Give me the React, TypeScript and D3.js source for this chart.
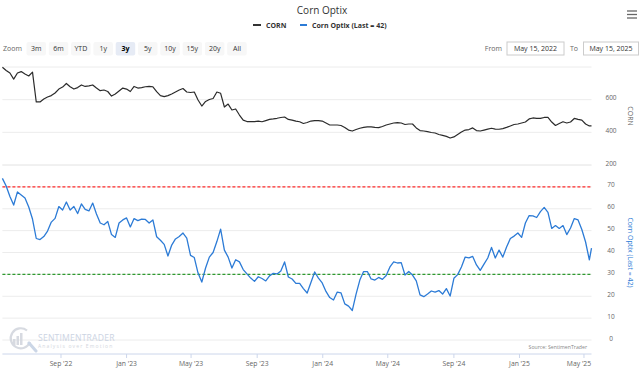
import * as d3 from "d3"

const W = 644
const H = 369
const FONT = "'Open Sans', sans-serif"

// weekly closes starting May 15, 2022; last entry is May 15, 2025
const START = new Date(2022, 4, 15)
const END = new Date(2025, 4, 15)

const cornValues = [
  798, 779, 763, 726, 763, 772, 757, 745, 769, 586,
  586, 604, 616, 625, 641, 665, 677, 699, 679, 665,
  674, 690, 681, 684, 690, 671, 655, 659, 650, 622,
  635, 653, 671, 665, 650, 681, 671, 674, 679, 681,
  679, 649, 625, 619, 625, 635, 647, 659, 668, 647,
  644, 647, 598, 561, 589, 601, 607, 647, 639, 555,
  573, 537, 543, 506, 475, 466, 466, 466, 469, 465,
  472, 479, 482, 486, 491, 494, 479, 475, 469, 465,
  454, 460, 469, 472, 472, 469, 457, 445, 445, 445,
  442, 430, 414, 408, 417, 425, 430, 433, 433, 430,
  429, 436, 445, 451, 457, 460, 457, 448, 451, 451,
  427, 411, 408, 404, 399, 396, 387, 381, 375, 365,
  372, 387, 402, 414, 417, 427, 411, 408, 414, 420,
  425, 420, 419, 423, 430, 439, 448, 451, 457, 463,
  482, 488, 486, 485, 491, 491, 463, 442, 454, 465,
  457, 463, 485, 479, 475, 451, 439, 439,
]

const optixValues = [
  73.9, 70.4, 65.6, 61.7, 67.7, 66.3, 64.9, 60.8, 55.3, 46.4,
  45.9, 47.3, 49.8, 53.9, 55.6, 61.0, 59.4, 63.1, 59.4, 61.0,
  57.8, 62.2, 59.7, 59.0, 62.6, 57.6, 53.5, 52.7, 54.2, 48.2,
  46.9, 53.5, 54.9, 55.8, 51.7, 55.5, 54.6, 55.3, 55.1, 53.5,
  54.9, 47.2, 45.6, 43.7, 38.4, 43.4, 46.2, 47.3, 48.9, 46.6,
  38.7, 37.7, 30.6, 26.5, 32.9, 37.9, 40.0, 45.0, 50.7, 41.1,
  37.9, 32.9, 36.7, 35.7, 32.2, 30.2, 28.3, 26.8, 28.9, 28.1,
  27.0, 29.3, 30.5, 30.2, 31.5, 35.7, 28.8, 27.9, 25.9, 25.9,
  23.5, 21.5, 26.3, 31.1, 28.3, 26.1, 22.2, 19.4, 18.3, 21.9,
  21.5, 16.5, 15.5, 13.5, 21.0, 27.4, 31.3, 31.3, 27.9, 27.4,
  28.6, 27.7, 29.5, 33.4, 35.7, 35.2, 35.4, 29.7, 31.3, 29.7,
  27.0, 20.6, 19.8, 21.0, 22.4, 21.9, 22.6, 21.0, 23.5, 20.1,
  28.2, 29.9, 33.4, 37.9, 37.5, 38.2, 34.3, 31.8, 34.7, 37.5,
  42.3, 37.5, 41.1, 37.9, 42.5, 46.4, 47.5, 48.9, 46.9, 53.5,
  56.9, 56.7, 56.0, 58.7, 60.6, 58.3, 51.0, 52.3, 51.0, 52.3,
  48.2, 51.2, 55.5, 54.9, 50.5, 44.8, 36.6, 42,
]

const UPPER_BAND = 70
const LOWER_BAND = 30
const cornTicks = [200, 400, 600, 800]
const optixTicks = [0, 10, 20, 30, 40, 50, 60, 70, 80]
const zoomButtons = ["3m", "6m", "YTD", "1y", "3y", "5y", "10y", "15y", "20y", "All"]
const SELECTED = "3y"

type Pt = { date: Date; value: number }

function toSeries(values: number[]): Pt[] {
  return values.map((value, i) => ({
    date: i === values.length - 1 ? END : d3.timeDay.offset(START, i * 7),
    value,
  }))
}

export default function App() {
  const x = d3.scaleTime().domain([START, END]).range([2.4, 591.5])
  const yTop = d3.scaleLinear().domain([200, 800]).range([165, 67])
  const yBot = d3.scaleLinear().domain([0, 80]).range([340, 165])

  const corn = toSeries(cornValues)
  const optix = toSeries(optixValues)

  const cornLine = d3
    .line<Pt>()
    .x((d) => x(d.date))
    .y((d) => yTop(d.value))
  const optixLine = d3
    .line<Pt>()
    .x((d) => x(d.date))
    .y((d) => yBot(d.value))

  const xTicks = x.ticks(d3.timeMonth.every(4)!)
  const fmt = d3.timeFormat("%b '%y")
  const [x0, x1] = x.range()

  return (
    <svg
      width={W}
      height={H}
      style={{ position: "absolute", left: 0, top: 0, fontFamily: FONT }}
    >
      <rect width={W} height={H} fill="#fff" />

      {/* title + legend */}
      <text x={322} y={13.5} textAnchor="middle" fontSize={10} fill="#333">
        Corn Optix
      </text>
      <line x1={253} x2={261} y1={25} y2={25} stroke="#333" strokeWidth={2} />
      <text x={266} y={27.5} fontSize={7} fontWeight={700} fill="#333">
        CORN
      </text>
      <line x1={300} x2={307} y1={25} y2={25} stroke="#2c7bd6" strokeWidth={2} />
      <text x={312} y={27.5} fontSize={7} fontWeight={700} fill="#333">
        Corn Optix (Last = 42)
      </text>
      <g stroke="#666" strokeWidth={1.3}>
        {[11, 14.5, 18].map((y) => (
          <line key={y} x1={627} x2={637} y1={y} y2={y} />
        ))}
      </g>

      {/* range selector */}
      <text x={3} y={51} fontSize={7} fill="#666">
        Zoom
      </text>
      {zoomButtons.map((b, i) => {
        const bx = 26.5 + i * 22.3
        const sel = b === SELECTED
        return (
          <g key={b}>
            <rect x={bx} y={42} width={19.5} height={13.5} rx={2} fill={sel ? "#e6ebf5" : "#f7f7f7"} />
            <text
              x={bx + 9.75}
              y={51.3}
              textAnchor="middle"
              fontSize={7}
              fontWeight={sel ? 700 : 400}
              fill={sel ? "#000" : "#333"}
            >
              {b}
            </text>
          </g>
        )
      })}
      <text x={502} y={51.3} textAnchor="end" fontSize={7} fill="#666">
        From
      </text>
      <rect x={507} y={42} width={57} height={13} fill="#fff" stroke="#ccc" />
      <text x={535.5} y={51.3} textAnchor="middle" fontSize={7} fill="#333">
        May 15, 2022
      </text>
      <text x={578} y={51.3} textAnchor="end" fontSize={7} fill="#666">
        To
      </text>
      <rect x={583.5} y={42} width={55} height={13} fill="#fff" stroke="#ccc" />
      <text x={611} y={51.3} textAnchor="middle" fontSize={7} fill="#333">
        May 15, 2025
      </text>

      {/* grid */}
      <g stroke="#ececec" strokeWidth={1}>
        {cornTicks.map((t) => (
          <line key={"c" + t} x1={x0} x2={x1} y1={yTop(t)} y2={yTop(t)} />
        ))}
        {optixTicks.map((t) => (
          <line key={"o" + t} x1={x0} x2={x1} y1={yBot(t)} y2={yBot(t)} />
        ))}
      </g>

      {/* watermark */}
      <g opacity={0.9}>
        <path d="M 27 330.5 A 10 10 0 1 0 30 342" fill="none" stroke="#d3d7de" strokeWidth={2.2} />
        <rect x={13} y={339} width={2.5} height={6} fill="#d3d7de" />
        <rect x={16.5} y={336} width={2.5} height={9} fill="#d3d7de" />
        <rect x={20} y={333} width={2.5} height={12} fill="#d3d7de" />
        <line x1={29} y1={343} x2={36} y2={351} stroke="#c6d2e4" strokeWidth={3} strokeLinecap="round" />
        <text x={38} y={340.5} fontSize={8.6} fill="#c7d0df" letterSpacing={0.2}>
          SENTIMENTRADER
        </text>
        <text x={38} y={347.5} fontSize={5} fill="#cfd4dc" letterSpacing={1.15}>
          Analysis over Emotion
        </text>
      </g>
      <text x={587} y={349} textAnchor="end" fontSize={5.2} fill="#888">
        Source: SentimenTrader
      </text>

      {/* band lines */}
      <line x1={x0} x2={x1} y1={yBot(UPPER_BAND)} y2={yBot(UPPER_BAND)} stroke="#ff2b2b" strokeWidth={1.2} strokeDasharray="3,2" />
      <line x1={x0} x2={x1} y1={yBot(LOWER_BAND)} y2={yBot(LOWER_BAND)} stroke="#2f9a2f" strokeWidth={1.2} strokeDasharray="3,2" />

      {/* series */}
      <path d={cornLine(corn) ?? undefined} fill="none" stroke="#2b2b2b" strokeWidth={1.2} strokeLinejoin="round" />
      <path d={optixLine(optix) ?? undefined} fill="none" stroke="#2c7bd6" strokeWidth={1.3} strokeLinejoin="round" />

      {/* right axes */}
      {cornTicks.slice(0, 3).map((t) => (
        <text key={"cl" + t} x={611} y={yTop(t) + 0.5} textAnchor="middle" fontSize={6.5} fill="#666">
          {t}
        </text>
      ))}
      {optixTicks.slice(0, 8).map((t) => (
        <text key={"ol" + t} x={611} y={yBot(t) + 0.5} textAnchor="middle" fontSize={6.5} fill="#666">
          {t}
        </text>
      ))}
      <text transform={`translate(628,${(yTop(800) + yTop(200)) / 2}) rotate(90)`} textAnchor="middle" fontSize={7} fill="#666">
        CORN
      </text>
      <text transform={`translate(628,${(yBot(0) + yBot(80)) / 2}) rotate(90)`} textAnchor="middle" fontSize={7} fill="#2c7bd6">
        Corn Optix (Last = 42)
      </text>

      {/* x axis */}
      <line x1={x0} x2={x1} y1={354} y2={354} stroke="#ccd6eb" />
      {xTicks.map((t) => (
        <g key={+t} transform={`translate(${x(t)},0)`}>
          <line y1={354} y2={358} stroke="#ccd6eb" />
          <text
            x={x(t) > 575 ? -5 : 0}
            y={365.5}
            textAnchor="middle"
            fontSize={6.8}
            fill="#666"
          >
            {fmt(t)}
          </text>
        </g>
      ))}
    </svg>
  )
}
